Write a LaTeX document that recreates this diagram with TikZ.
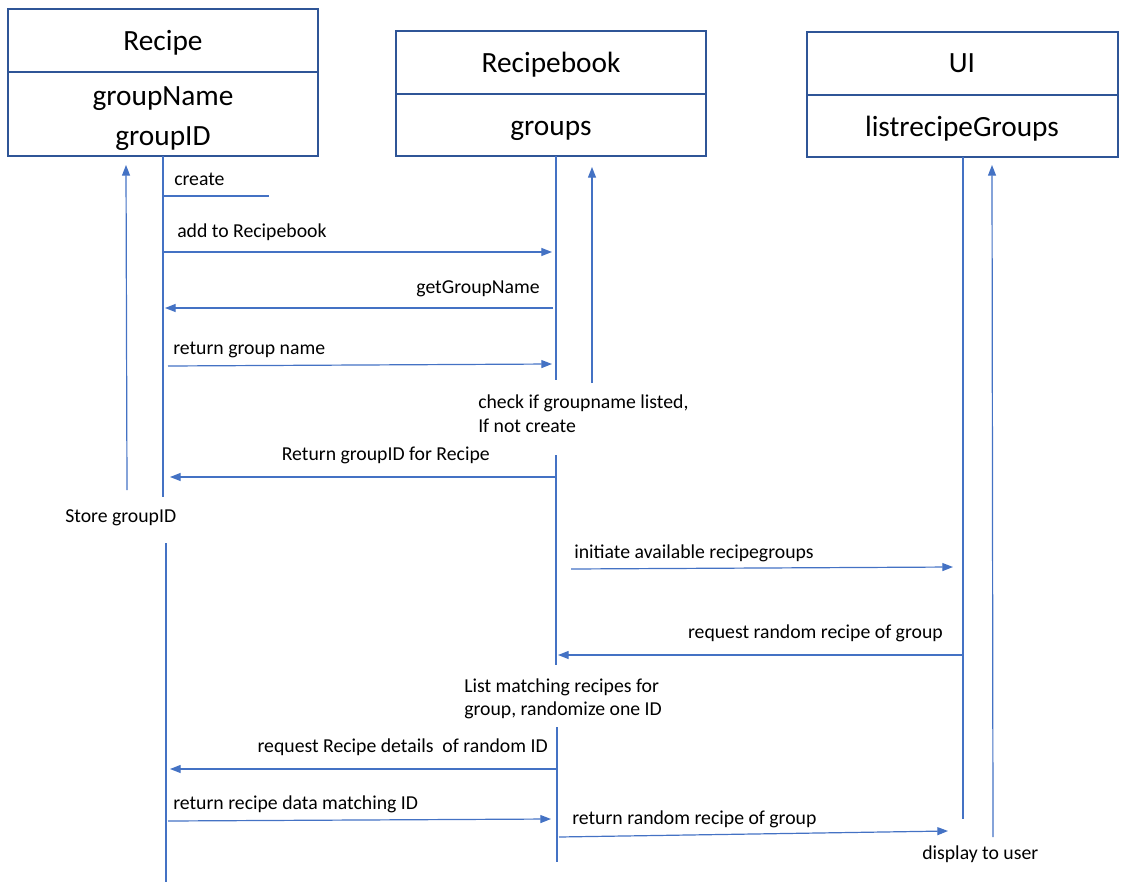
\documentclass[tikz,border=0pt]{standalone}
\usepackage{fontspec}
\setmainfont{Carlito}
\usetikzlibrary{arrows.meta}
\definecolor{boxblue}{HTML}{2F5597}
\definecolor{lineblue}{HTML}{4472C4}
\begin{document}
\begin{tikzpicture}[x=0.75pt,y=-0.75pt,
  classbox/.style={draw=boxblue,line width=1.8pt},
  title/.style={font=\fontsize{22}{26}\selectfont,anchor=base,inner sep=0pt},
  lbl/.style={font=\fontsize{14.8}{18}\selectfont,inner sep=0pt},
  life/.style={draw=lineblue,line width=0.9pt},
  msg/.style={draw=lineblue,line width=0.9pt,-{Triangle[length=8pt,width=6pt]}}]
\useasboundingbox (0,0) rectangle (1139,892);
% class boxes
\draw[classbox] (8,9) rectangle (318,156);
\draw[classbox] (8,72) -- (318,72);
\draw[classbox] (396,31) rectangle (706,156);
\draw[classbox] (396,94) -- (706,94);
\draw[classbox] (807,32) rectangle (1118,157);
\draw[classbox] (807,95) -- (1118,95);
\node[title] (tRecipe) at (163,51) {Recipe};
\node[title] (tgName) at (163,106) {groupName};
\node[title] (tgID) at (163,145) {groupID};
\node[title] (tBook) at (551,73) {Recipebook};
\node[title] (tGroups) at (551,135) {groups};
\node[title] (tUI) at (962,73) {UI};
\node[title] (tList) at (962,137) {listrecipeGroups};
% lifeline coordinates
\coordinate (rA) at (163,156);
\coordinate (rB) at (163,497);
\coordinate (rC) at (166,543);
\coordinate (rD) at (166,882);
\coordinate (bA) at (556,156);
\coordinate (bB) at (556,380);
\coordinate (bC) at (556,455);
\coordinate (bD) at (556,665);
\coordinate (bE) at (557,727);
\coordinate (bF) at (557,862);
\coordinate (uA) at (963,157);
\coordinate (uB) at (963,819);
\path[life] (rA) -- (rB);
\path[life] (rC) -- (rD);
\path[life] (bA) -- (bB);
\path[life] (bC) -- (bD);
\path[life] (bE) -- (bF);
\path[life] (uA) -- (uB);
% self up-arrows
\coordinate (rU0) at (127,490);
\coordinate (rU1) at (126,165);
\path[msg] (rU0) -- (rU1);
\coordinate (bU0) at (592,383);
\coordinate (bU1) at (592,167);
\path[msg] (bU0) -- (bU1);
\coordinate (uU0) at (993,837);
\coordinate (uU1) at (992,165);
\path[msg] (uU0) -- (uU1);
% messages
\coordinate (c0) at (163,196);
\coordinate (c1) at (269,196);
\path[life] (c0) -- (c1);
\node[lbl,anchor=base west] (lCreate) at (174,185) {create};
\coordinate (m1a) at (163,252);
\coordinate (m1b) at (552,252);
\path[msg] (m1a) -- (m1b);
\node[lbl,anchor=base west] (l1) at (177,237) {add to Recipebook};
\coordinate (m2a) at (553,308);
\coordinate (m2b) at (165,308);
\path[msg] (m2a) -- (m2b);
\node[lbl,anchor=base east] (l2) at (540,293) {getGroupName};
\coordinate (m3a) at (168,366);
\coordinate (m3b) at (552,364);
\path[msg] (m3a) -- (m3b);
\node[lbl,anchor=base west] (l3) at (173,354) {return group name};
\node[lbl,anchor=base west] (l4a) at (478,408) {check if groupname listed,};
\node[lbl,anchor=base west] (l4b) at (478,432) {If not create};
\coordinate (m5a) at (556,477);
\coordinate (m5b) at (170,477);
\path[msg] (m5a) -- (m5b);
\node[lbl,anchor=base east] (l5) at (490,460) {Return groupID for Recipe};
\node[lbl,anchor=base west] (l6) at (65,522) {Store groupID};
\coordinate (m7a) at (571,569);
\coordinate (m7b) at (953,567);
\path[msg] (m7a) -- (m7b);
\node[lbl,anchor=base west] (l7) at (574,558) {initiate available recipegroups};
\coordinate (m8a) at (962,655);
\coordinate (m8b) at (558,655);
\path[msg] (m8a) -- (m8b);
\node[lbl,anchor=base east] (l8) at (943,638) {request random recipe of group};
\node[lbl,anchor=base west] (l9a) at (464,692) {List matching recipes for};
\node[lbl,anchor=base west] (l9b) at (464,715) {group, randomize one ID};
\coordinate (m10a) at (557,769);
\coordinate (m10b) at (170,769);
\path[msg] (m10a) -- (m10b);
\node[lbl,anchor=base east] (l10) at (548,752) {request Recipe details\ \ of random ID};
\coordinate (m11a) at (168,821);
\coordinate (m11b) at (551,819);
\path[msg] (m11a) -- (m11b);
\node[lbl,anchor=base west] (l11) at (173,809) {return recipe data matching ID};
\coordinate (m12a) at (559,837);
\coordinate (m12b) at (948,831);
\path[msg] (m12a) -- (m12b);
\node[lbl,anchor=base west] (l12) at (572,824) {return random recipe of group};
\node[lbl,anchor=base west] (l13) at (922,859) {display to user};
\end{tikzpicture}
\end{document}
